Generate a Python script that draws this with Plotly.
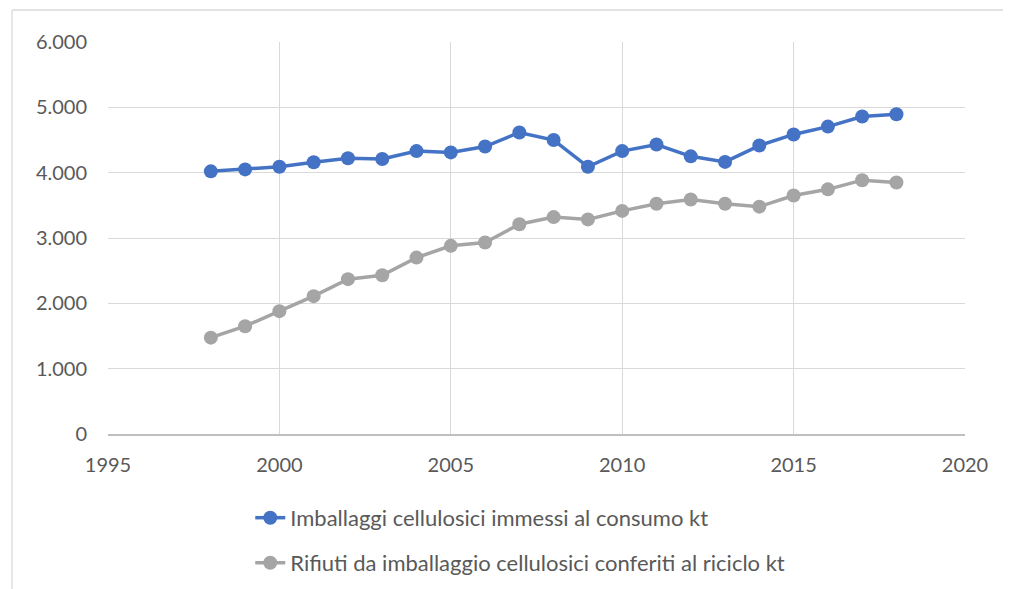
import plotly.graph_objects as go

# Data (kt)
anni = list(range(1998, 2019))
immessi_consumo = [4020, 4050, 4090, 4160, 4220, 4210, 4330, 4310, 4400, 4615,
                   4500, 4090, 4330, 4430, 4250, 4165, 4415, 4585, 4705, 4860, 4895]
conferiti_riciclo = [1475, 1650, 1880, 2110, 2370, 2430, 2700, 2880, 2930, 3210,
                     3320, 3285, 3415, 3525, 3590, 3525, 3480, 3650, 3745, 3885, 3850]

nome_immessi = "Imballaggi cellulosici immessi al consumo kt"
nome_riciclo = "Rifiuti da imballaggio cellulosici conferiti al riciclo kt"

colors = {'blu': '#4472C4', 'grigio': '#A5A5A5', 'testo': '#595959',
          'griglia': '#D9D9D9', 'asse': '#BFBFBF'}
font_family = "Lato, 'Open Sans', sans-serif"

fig = go.Figure()

fig.add_trace(go.Scatter(
    x=anni, y=immessi_consumo, name=nome_immessi,
    mode='lines+markers',
    line=dict(color=colors['blu'], width=3.5),
    marker=dict(color=colors['blu'], size=14),
    legend='legend', showlegend=True
))

fig.add_trace(go.Scatter(
    x=anni, y=conferiti_riciclo, name=nome_riciclo,
    mode='lines+markers',
    line=dict(color=colors['grigio'], width=3.5),
    marker=dict(color=colors['grigio'], size=14),
    legend='legend2', showlegend=True
))

# chart frame: only the top and left edges are visible in the reference
frame = dict(color=colors['griglia'], width=1.3)

fig.update_layout(
    width=1011, height=589,
    paper_bgcolor='white', plot_bgcolor='white',
    margin=dict(l=100, r=54, t=34, b=163),
    separators=',.',
    showlegend=True,
    font=dict(family=font_family, size=20, color=colors['testo']),
    xaxis=dict(
        range=[1995, 2020], dtick=5, tick0=1995, tickformat='d',
        showgrid=True, gridcolor=colors['griglia'], gridwidth=1.3,
        zeroline=False, showline=True, linecolor=colors['asse'], linewidth=1.5,
        ticks='', ticklabelstandoff=12
    ),
    yaxis=dict(
        range=[0, 6000], dtick=1000, tickformat=',d',
        showgrid=True, gridcolor=colors['griglia'], gridwidth=1.3,
        zeroline=False, showline=False, ticks='', ticklabelstandoff=20
    ),
    legend=dict(x=0.166, y=-0.214, xanchor='left', yanchor='middle', visible=True,
                font=dict(size=22, color=colors['testo']), bgcolor='rgba(0,0,0,0)'),
    legend2=dict(x=0.166, y=-0.329, xanchor='left', yanchor='middle', visible=True,
                 font=dict(size=22, color=colors['testo']), bgcolor='rgba(0,0,0,0)'),
    shapes=[
        dict(type='line', xref='paper', yref='paper',
             x0=-0.112, x1=1.2, y0=1.0816, y1=1.0816, line=frame, layer='below'),
        dict(type='line', xref='paper', yref='paper',
             x0=-0.112, x1=-0.112, y0=-0.45, y1=1.0816, line=frame, layer='below'),
    ]
)

fig.write_html("out.html")
